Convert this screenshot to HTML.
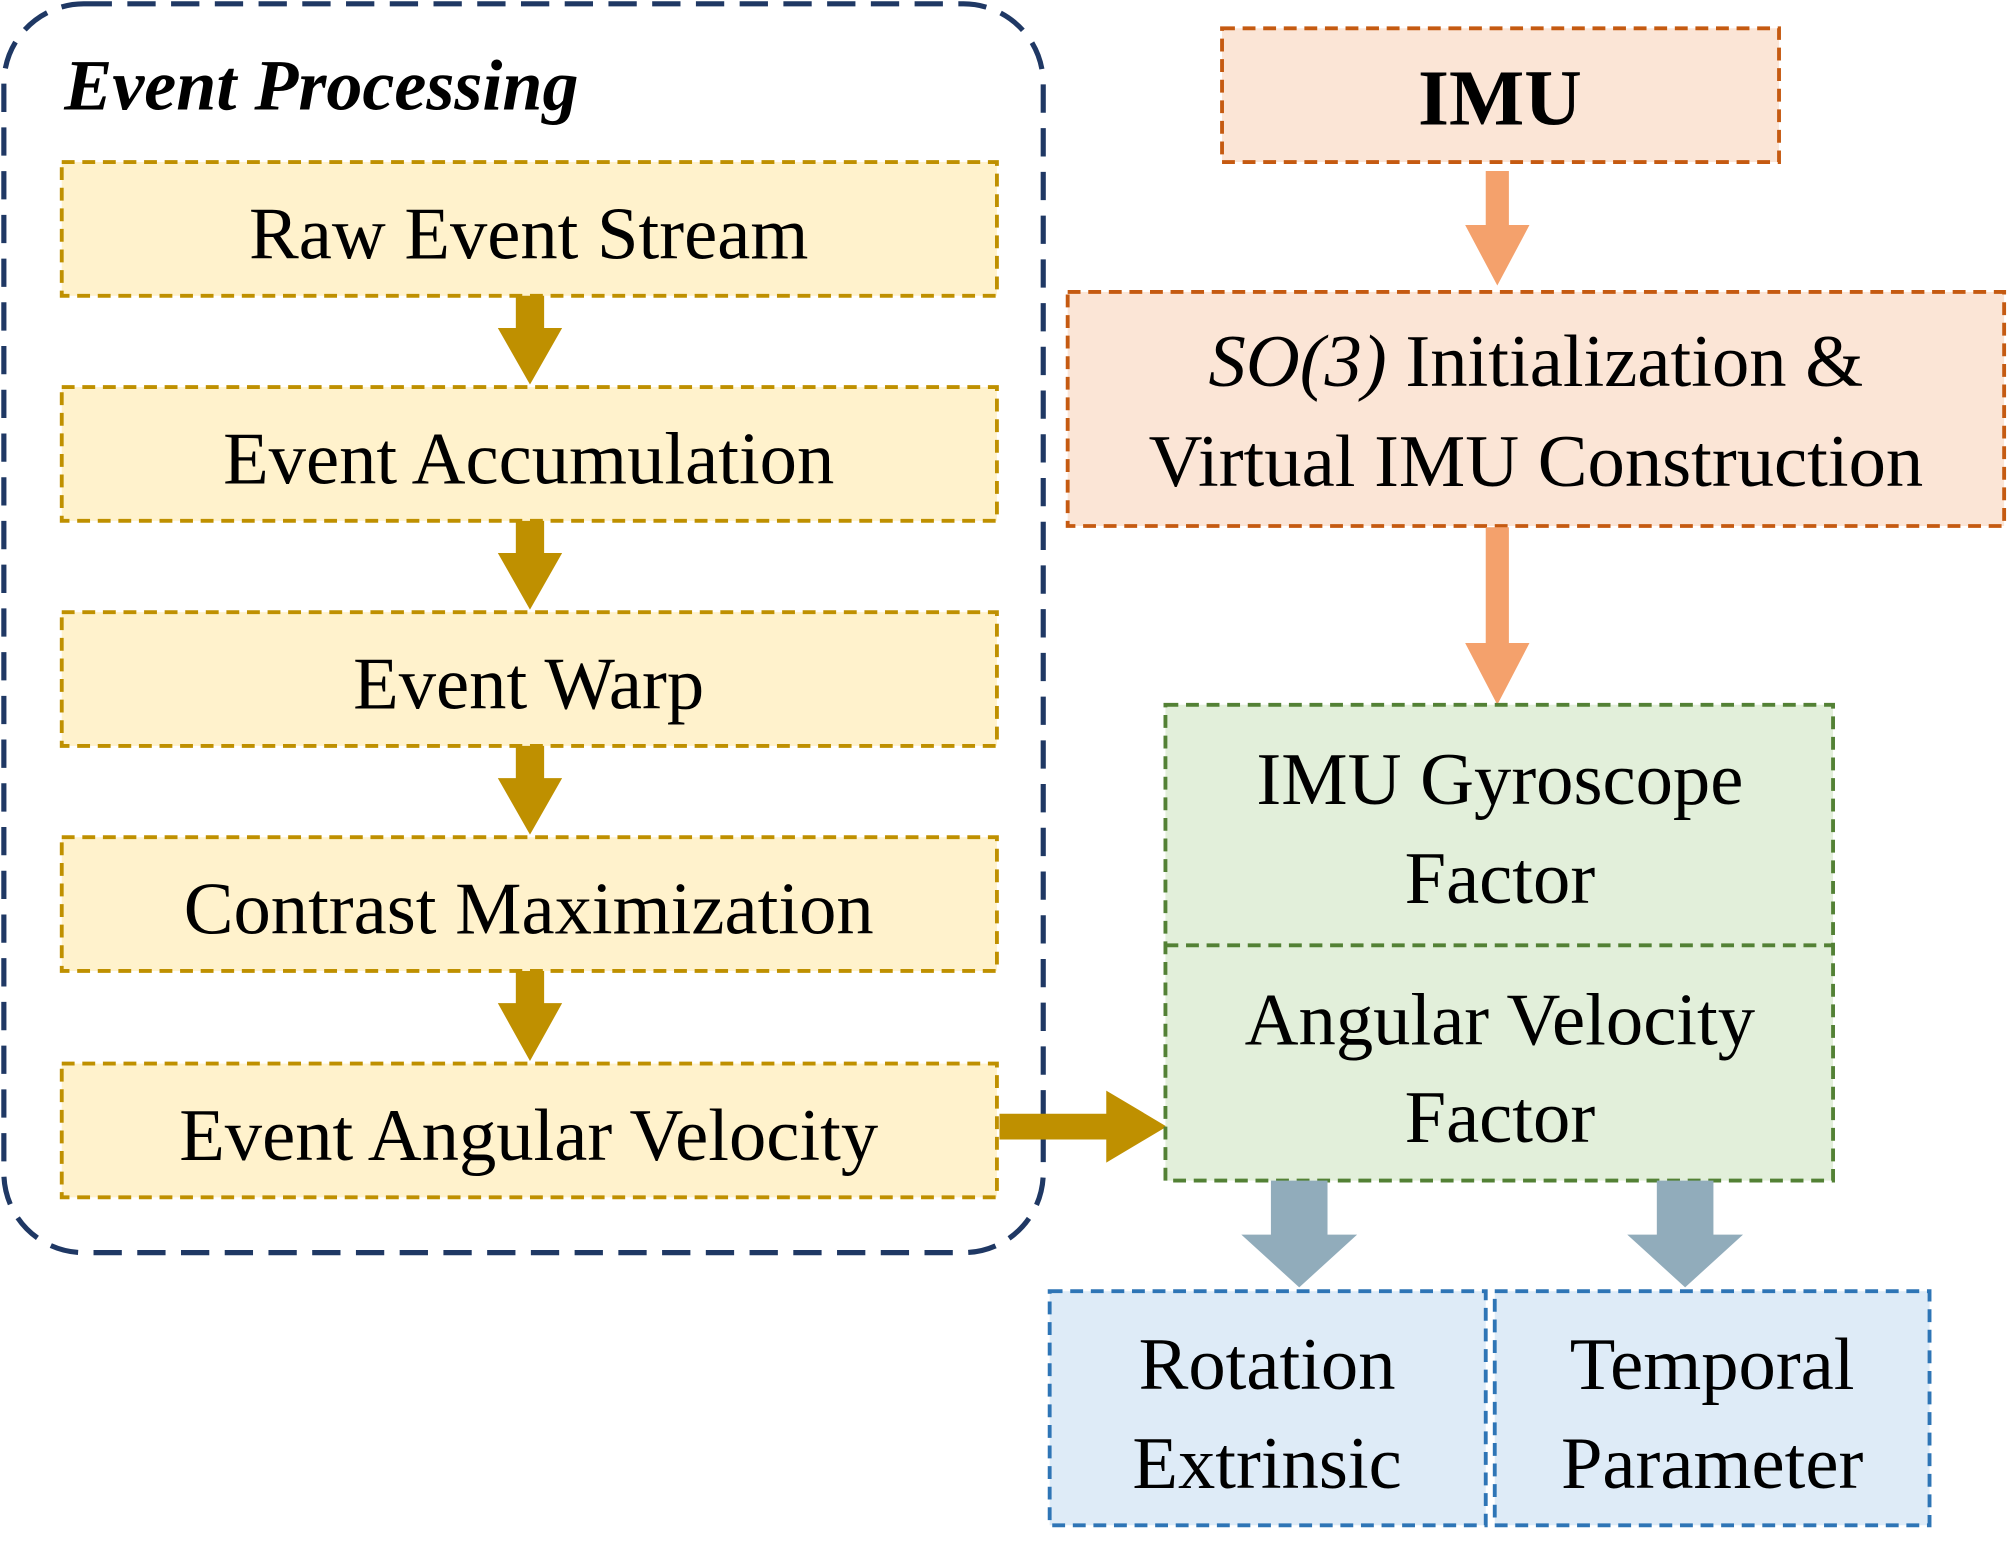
<!DOCTYPE html>
<html><head><meta charset="utf-8"><style>html,body{margin:0;padding:0;background:#fff}svg{display:block}</style></head>
<body>
<svg width="2008" height="1551" viewBox="0 0 1561 1206" preserveAspectRatio="none" xmlns="http://www.w3.org/2000/svg" font-family="'Liberation Serif', serif">
<rect x="3" y="3" width="808" height="971" rx="62" fill="none" stroke="#1f3864" stroke-width="4" stroke-dasharray="22 12"/>
<text x="50" y="85" font-size="56" font-weight="bold" font-style="italic" fill="#000">Event Processing</text>
<g fill="#fff2cc" stroke="#bf9000" stroke-width="3" stroke-dasharray="10 6">
<rect x="48" y="126" width="727" height="104"/>
<rect x="48" y="301" width="727" height="104"/>
<rect x="48" y="476" width="727" height="104"/>
<rect x="48" y="651" width="727" height="104"/>
<rect x="48" y="827" width="727" height="104"/>
</g>
<g font-size="58" text-anchor="middle" fill="#000">
<text x="411" y="201">Raw Event Stream</text>
<text x="411" y="376">Event Accumulation</text>
<text x="411" y="551">Event Warp</text>
<text x="411" y="726">Contrast Maximization</text>
<text x="411" y="902">Event Angular Velocity</text>
</g>
<g fill="#bf9000">
<polygon points="401,230 423,230 423,255 437,255 412,299 387,255 401,255"/>
<polygon points="401,405 423,405 423,430 437,430 412,474 387,430 401,430"/>
<polygon points="401,580 423,580 423,605 437,605 412,649 387,605 401,605"/>
<polygon points="401,755 423,755 423,780 437,780 412,825 387,780 401,780"/>
<polygon points="777,866 860,866 860,848 907,876 860,904 860,886 777,886"/>
</g>
<rect x="950" y="22" width="433" height="104" fill="#fbe5d6" stroke="#c55a11" stroke-width="3" stroke-dasharray="10 6"/>
<text x="1166" y="97" font-size="62" font-weight="bold" text-anchor="middle">IMU</text>
<rect x="830" y="227" width="728" height="182" fill="#fbe5d6" stroke="#c55a11" stroke-width="3" stroke-dasharray="10 6"/>
<text x="1194" y="300" font-size="58" text-anchor="middle"><tspan font-style="italic">SO(3)</tspan> Initialization &amp;</text>
<text x="1194" y="378" font-size="58" text-anchor="middle">Virtual IMU Construction</text>
<g fill="#f4a16c">
<polygon points="1155,133 1173,133 1173,175 1189,175 1164,222 1139,175 1155,175"/>
<polygon points="1155,410 1173,410 1173,500 1189,500 1164,548 1139,500 1155,500"/>
</g>
<rect x="906" y="548" width="519" height="370" fill="#e2efda" stroke="#538135" stroke-width="3" stroke-dasharray="10 6"/>
<line x1="906" y1="735" x2="1425" y2="735" stroke="#538135" stroke-width="3" stroke-dasharray="10 6"/>
<g font-size="58" text-anchor="middle">
<text x="1166" y="625">IMU Gyroscope</text>
<text x="1166" y="702">Factor</text>
<text x="1166" y="812">Angular Velocity</text>
<text x="1166" y="888">Factor</text>
</g>
<g fill="#91acbb">
<polygon points="988,918 1032,918 1032,960 1055,960 1010,1001 965,960 988,960"/>
<polygon points="1288,918 1332,918 1332,960 1355,960 1310,1001 1265,960 1288,960"/>
</g>
<g fill="#deebf7" stroke="#2e75b6" stroke-width="3" stroke-dasharray="10 6">
<rect x="816" y="1004" width="339" height="182"/>
<rect x="1162" y="1004" width="338" height="182"/>
</g>
<g font-size="58" text-anchor="middle">
<text x="985" y="1080">Rotation</text>
<text x="985" y="1157">Extrinsic</text>
<text x="1331" y="1080">Temporal</text>
<text x="1331" y="1157">Parameter</text>
</g>
</svg>
</body></html>
